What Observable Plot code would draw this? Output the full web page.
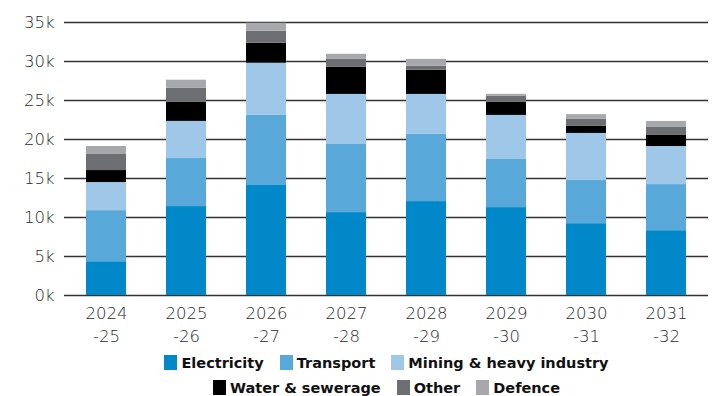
<!DOCTYPE html>
<html>
<head>
<meta charset="utf-8">
<script src="https://cdn.jsdelivr.net/npm/d3@7"></script>
<script src="https://cdn.jsdelivr.net/npm/@observablehq/plot@0.6"></script>
<style>
  html, body { margin: 0; padding: 0; background: #fff; }
  #chart { width: 721px; }
  #chart svg { display: block; }
  .legend { width: 721px; font-family: "DejaVu Sans", sans-serif; font-weight: bold; font-size: 14.5px; color: #111; }
  .row { display: flex; justify-content: center; align-items: center; height: 25px; padding-left: 52px; box-sizing: border-box; }
  .item { display: flex; align-items: center; margin: 0 8px; }
  .sw { width: 13px; height: 15px; margin-right: 4px; }
</style>
</head>
<body>
<div id="chart"></div>
<script>
const years = ["2024-25", "2025-26", "2026-27", "2027-28", "2028-29", "2029-30", "2030-31", "2031-32"];
const sectors = ["Electricity", "Transport", "Mining & heavy industry", "Water & sewerage", "Other", "Defence"];
const colors = ["#0088C9", "#58A9DA", "#9FC8E8", "#000000", "#6D6E72", "#A7A8AC"];
const legendRows = [[0, 1, 2], [3, 4, 5]];

const electricity = [4330, 11400, 14100, 10630, 12040, 11270, 9210, 8310];
const transport   = [6550, 6160, 8990, 8730, 8610, 6170, 5530, 5910];
const mining      = [3600, 4760, 6690, 6420, 5130, 5650, 6040, 4880];
const water       = [1540, 2440, 2570, 3470, 3090, 1670, 900, 1420];
const other       = [2060, 1800, 1540, 1020, 520, 770, 900, 1030];
const defence     = [1020, 1040, 1020, 650, 880, 260, 610, 770];

const yTicks = [0, 5000, 10000, 15000, 20000, 25000, 30000, 35000];

const series = [electricity, transport, mining, water, other, defence];
const data = [];
years.forEach((y, i) => {
  sectors.forEach((s, j) => data.push({year: y, sector: s, value: series[j][i]}));
});

const chart = Plot.plot({
  width: 721,
  height: 350,
  marginTop: 22,
  marginBottom: 55,
  marginLeft: 64,
  marginRight: 13,
  x: {domain: years, paddingInner: 0.5, paddingOuter: 0.25, label: null},
  y: {domain: [0, 35000], label: null},
  color: {domain: sectors, range: colors},
  style: {fontFamily: "'DejaVu Sans', sans-serif", fontSize: "16.5px", color: "#2a2a2a", background: "#fff"},
  marks: [
    Plot.gridY(yTicks, {stroke: "#333", strokeOpacity: 1, strokeWidth: 1.3}),
    Plot.barY(data, {x: "year", y: "value", fill: "sector", order: sectors}),
    Plot.axisY({ticks: yTicks, tickFormat: d => d / 1000 + "k", tickSize: 0, tickPadding: 10, label: null, fontWeight: 300}),
    Plot.axisX({tickSize: 0, tickPadding: 8, tickFormat: d => d.replace("-", "\n-"), lineHeight: 1.36, label: null, fontWeight: 300})
  ]
});
document.getElementById("chart").appendChild(chart);

const legend = document.createElement("div");
legend.className = "legend";
legendRows.forEach(r => {
  const row = document.createElement("div");
  row.className = "row";
  r.forEach(j => {
    const it = document.createElement("div");
    it.className = "item";
    const sw = document.createElement("span");
    sw.className = "sw";
    sw.style.background = colors[j];
    const t = document.createElement("span");
    t.textContent = sectors[j];
    it.appendChild(sw);
    it.appendChild(t);
    row.appendChild(it);
  });
  legend.appendChild(row);
});
document.getElementById("chart").appendChild(legend);
</script>
</body>
</html>
